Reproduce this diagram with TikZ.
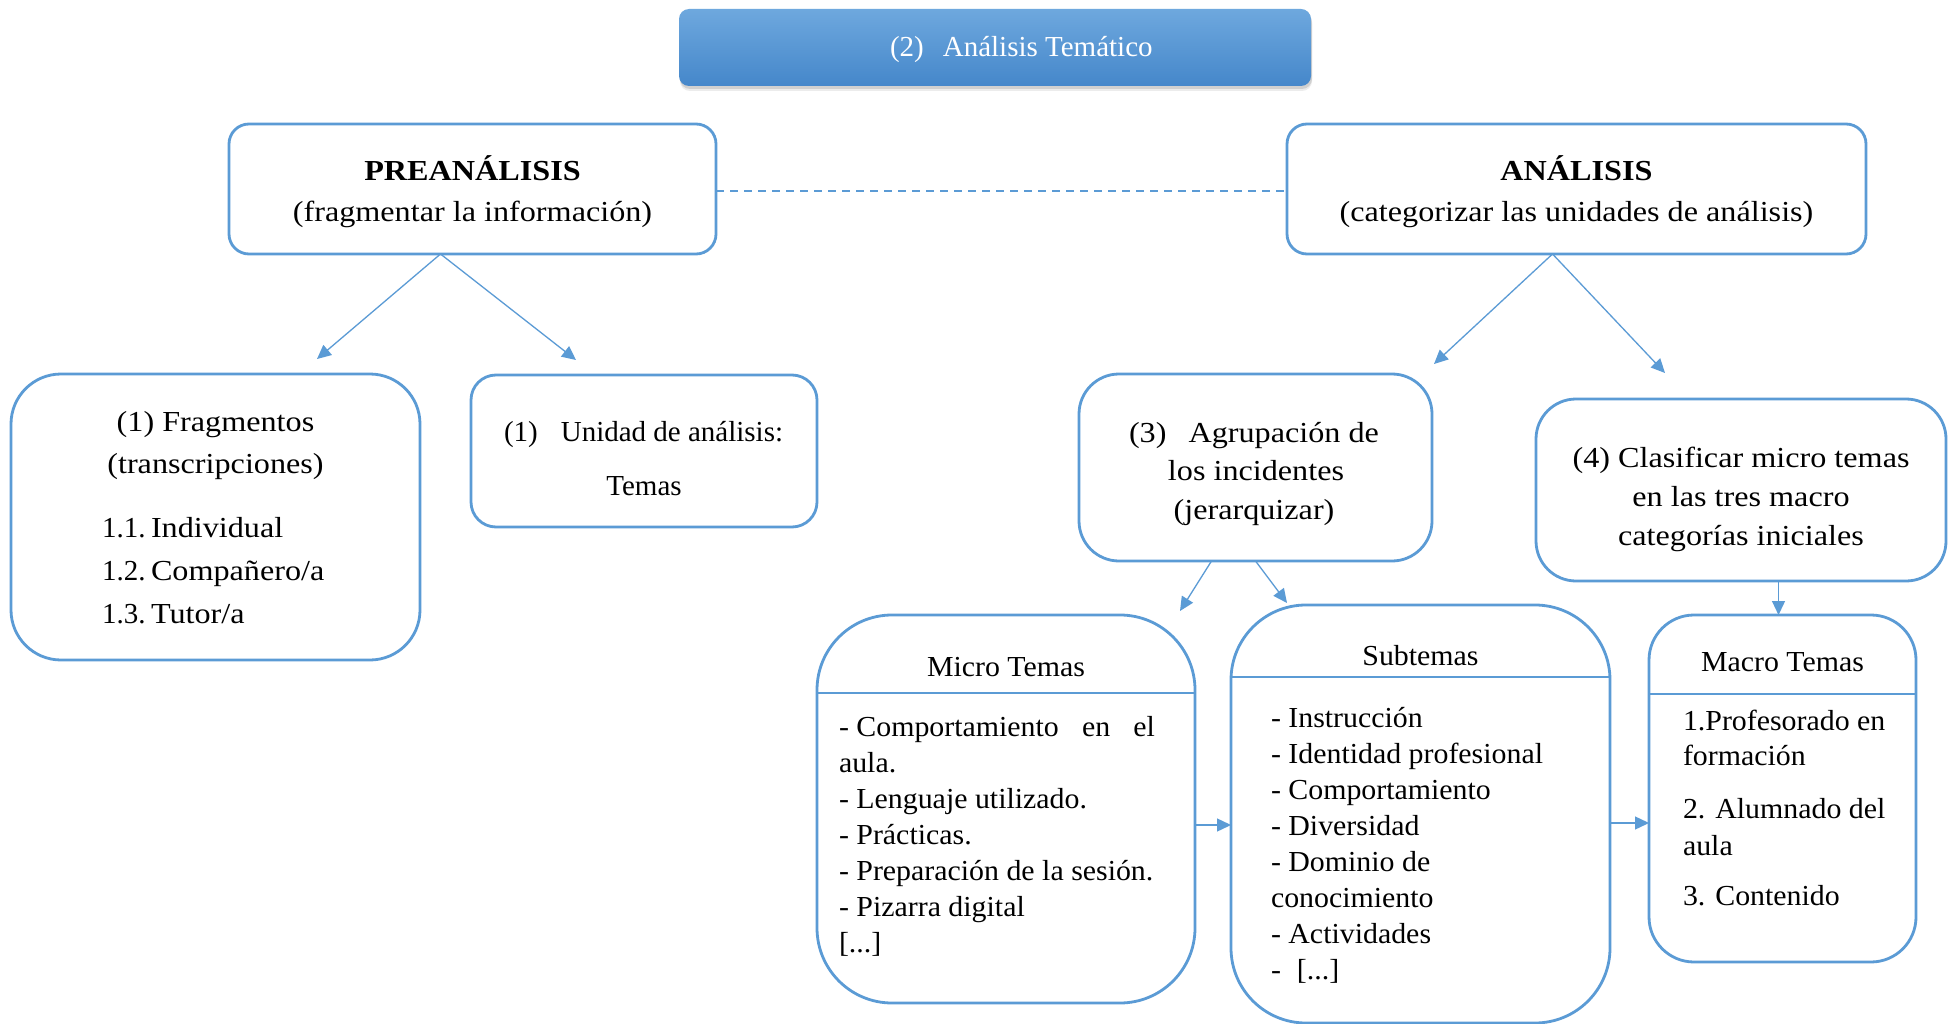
\documentclass[tikz,border=0pt]{standalone}
\usepackage{fontspec}
\setmainfont{Liberation Serif}
\newfontfamily\fwide{Liberation Serif}[FakeStretch=1.11]
\newfontfamily\fmid{Liberation Serif}[FakeStretch=1.03]
\usetikzlibrary{arrows.meta,calc,shadows}
\definecolor{lineblue}{HTML}{5B9BD5}
\definecolor{topblue}{HTML}{6EA8DE}
\definecolor{botblue}{HTML}{4587CA}
\begin{document}
\begin{tikzpicture}[x=1pt,y=-1pt,
  every node/.style={inner sep=0pt, outer sep=0pt},
  box/.style={draw=lineblue, line width=2.8pt, rounded corners=#1, anchor=north west},
  txt/.style={font=\fontsize{29}{34}\selectfont, text=black},
  wtxt/.style={font=\fontsize{29}{34}\fwide, text=black},
  mtxt/.style={font=\fontsize{29}{34}\fmid, text=black},
  conn/.style={draw=lineblue, line width=1.3pt, -{Triangle[length=14pt,width=13pt]}},
  rule/.style={draw=lineblue, line width=1.4pt},
  link/.style={draw=lineblue, line width=2pt, dash pattern=on 8pt off 6pt},
]
\useasboundingbox (0,0) rectangle (1948,1024);
\fill[white] (0,0) rectangle (1948,1024);

% title bar
\node[anchor=north west, minimum width=632pt, minimum height=77pt, rounded corners=10pt,
      top color=topblue, bottom color=botblue,
      drop shadow={shadow xshift=1pt, shadow yshift=-5pt, opacity=0.15},
      drop shadow={shadow xshift=1pt, shadow yshift=-3pt, opacity=0.25}] (ttl) at (679,9) {};
\node[txt, anchor=base west, text=white] (ttl-t) at (890,57) {(2)\hspace{19pt}Análisis Temático};

% two phases
\node[box=20pt, minimum width=487pt, minimum height=130pt] (pre) at (229,124) {};
\node[wtxt, anchor=base] (pre-a) at (pre.north |- 0,181) {\bfseries PREANÁLISIS};
\node[wtxt, anchor=base] (pre-b) at (pre.north |- 0,222) {(fragmentar la información)};

\node[box=20pt, minimum width=579pt, minimum height=130pt] (ana) at (1287,124) {};
\node[wtxt, anchor=base] (ana-a) at (ana.north |- 0,181) {\bfseries ANÁLISIS};
\node[wtxt, anchor=base] (ana-b) at (ana.north |- 0,222) {(categorizar las unidades de análisis)};

\draw[link] (pre.east |- 0,191) -- (ana.west |- 0,191);

% preanalysis steps
\node[box=50pt, minimum width=409pt, minimum height=286pt] (frag) at (11,374) {};
\node[wtxt, anchor=base] (frag-a) at (frag.north |- 0,431) {(1) Fragmentos};
\node[wtxt, anchor=base] (frag-b) at (frag.north |- 0,473) {(transcripciones)};
\node[wtxt, anchor=base west] (frag-c) at (102,537) {\makebox[49pt][l]{\rmfamily 1.1.}Individual};
\node[wtxt, anchor=base west] (frag-d) at (102,580) {\makebox[49pt][l]{\rmfamily 1.2.}Compañero/a};
\node[wtxt, anchor=base west] (frag-e) at (102,623) {\makebox[49pt][l]{\rmfamily 1.3.}Tutor/a};

\node[box=25pt, minimum width=346pt, minimum height=152pt] (uni) at (471,375) {};
\node[txt, anchor=base west] (uni-a) at (504,441) {(1)\hspace{23pt}Unidad de análisis:};
\node[txt, anchor=base] (uni-b) at (644,495) {Temas};

% analysis steps
\node[box=40pt, minimum width=353pt, minimum height=187pt] (agr) at (1079,374) {};
\node[wtxt, anchor=base west] (agr-a) at (1129,442) {(3)\hspace{22pt}Agrupación de};
\node[wtxt, anchor=base] (agr-b) at (1256,480) {los incidentes};
\node[wtxt, anchor=base] (agr-c) at (1254,519) {(jerarquizar)};

\node[box=40pt, minimum width=410pt, minimum height=182pt] (cls) at (1536,399) {};
\node[wtxt, anchor=base] (cls-a) at (cls.north |- 0,467) {(4) Clasificar micro temas};
\node[wtxt, anchor=base] (cls-b) at (cls.north |- 0,506) {en las tres macro};
\node[wtxt, anchor=base] (cls-c) at (cls.north |- 0,545) {categorías iniciales};

% theme tables
\node[box=75pt, minimum width=378pt, minimum height=388pt] (mic) at (817,615) {};
\draw[rule] (mic.west |- 0,693) -- (mic.east |- 0,693);
\node[mtxt, anchor=base] (mic-h) at (mic.north |- 0,676) {Micro Temas};
\node[mtxt, anchor=base west] (mic-1) at (839,736) {\makebox[316pt][l]{- Comportamiento\hfill en\hfill el}};
\node[mtxt, anchor=base west] (mic-2) at (839,772) {aula.};
\node[mtxt, anchor=base west] (mic-3) at (839,808) {- Lenguaje utilizado.};
\node[mtxt, anchor=base west] (mic-4) at (839,844) {- Prácticas.};
\node[mtxt, anchor=base west] (mic-5) at (839,880) {- Preparación de la sesión.};
\node[mtxt, anchor=base west] (mic-6) at (839,916) {- Pizarra digital};
\node[mtxt, anchor=base west] (mic-7) at (839,952) {[...]};

\node[box=75pt, minimum width=379pt, minimum height=418pt] (sub) at (1231,605) {};
\draw[rule] (sub.west |- 0,677) -- (sub.east |- 0,677);
\node[mtxt, anchor=base] (sub-h) at (sub.north |- 0,665) {Subtemas};
\node[mtxt, anchor=base west] (sub-1) at (1271,727) {- Instrucción};
\node[mtxt, anchor=base west] (sub-2) at (1271,763) {- Identidad profesional};
\node[mtxt, anchor=base west] (sub-3) at (1271,799) {- Comportamiento};
\node[mtxt, anchor=base west] (sub-4) at (1271,835) {- Diversidad};
\node[mtxt, anchor=base west] (sub-5) at (1271,871) {- Dominio de};
\node[mtxt, anchor=base west] (sub-6) at (1271,907) {conocimiento};
\node[mtxt, anchor=base west] (sub-7) at (1271,943) {- Actividades};
\node[mtxt, anchor=base west] (sub-8) at (1271,979) {-\hspace{16pt}[...]};

\node[box=45pt, minimum width=267pt, minimum height=347pt] (mac) at (1649,615) {};
\draw[rule] (mac.west |- 0,694) -- (mac.east |- 0,694);
\node[mtxt, anchor=base] (mac-h) at (mac.north |- 0,671) {Macro Temas};
\node[mtxt, anchor=base west] (mac-1) at (1683,730) {1.Profesorado en};
\node[mtxt, anchor=base west] (mac-2) at (1683,765) {formación};
\node[mtxt, anchor=base west] (mac-3) at (1683,818) {2. Alumnado del};
\node[mtxt, anchor=base west] (mac-4) at (1683,855) {aula};
\node[mtxt, anchor=base west] (mac-5) at (1683,905) {3. Contenido};

% connector ends
\coordinate (pre-o) at ($(pre.south)+(-32,0)$);
\coordinate (ana-o) at ($(ana.south)+(-24,0)$);
\coordinate (frag-in) at (317,359);
\coordinate (uni-in) at (576,360);
\coordinate (agr-in) at (1434,364);
\coordinate (cls-in) at (1665,373);
\coordinate (agr-o1) at ($(agr.south)+(-44,0)$);
\coordinate (mic-in) at (1180,611);
\coordinate (sub-in) at (1287,603);
\coordinate (m2s) at ($(mic.east)+(0,16)$);
\coordinate (s2m) at ($(sub.east)+(0,9)$);

\draw[conn] (pre-o) -- (frag-in);
\draw[conn] (pre-o) -- (uni-in);
\draw[conn] (ana-o) -- (agr-in);
\draw[conn] (ana-o) -- (cls-in);
\draw[conn] (agr-o1) -- (mic-in);
\draw[conn] (agr.south) -- (sub-in);
\draw[conn] (m2s) -- (m2s -| sub.west);
\draw[conn] (s2m) -- (s2m -| mac.west);
\draw[conn] ($(mac.north |- cls.south)+(-4,0)$) -- ($(mac.north)+(-4,0)$);
\end{tikzpicture}
\end{document}
